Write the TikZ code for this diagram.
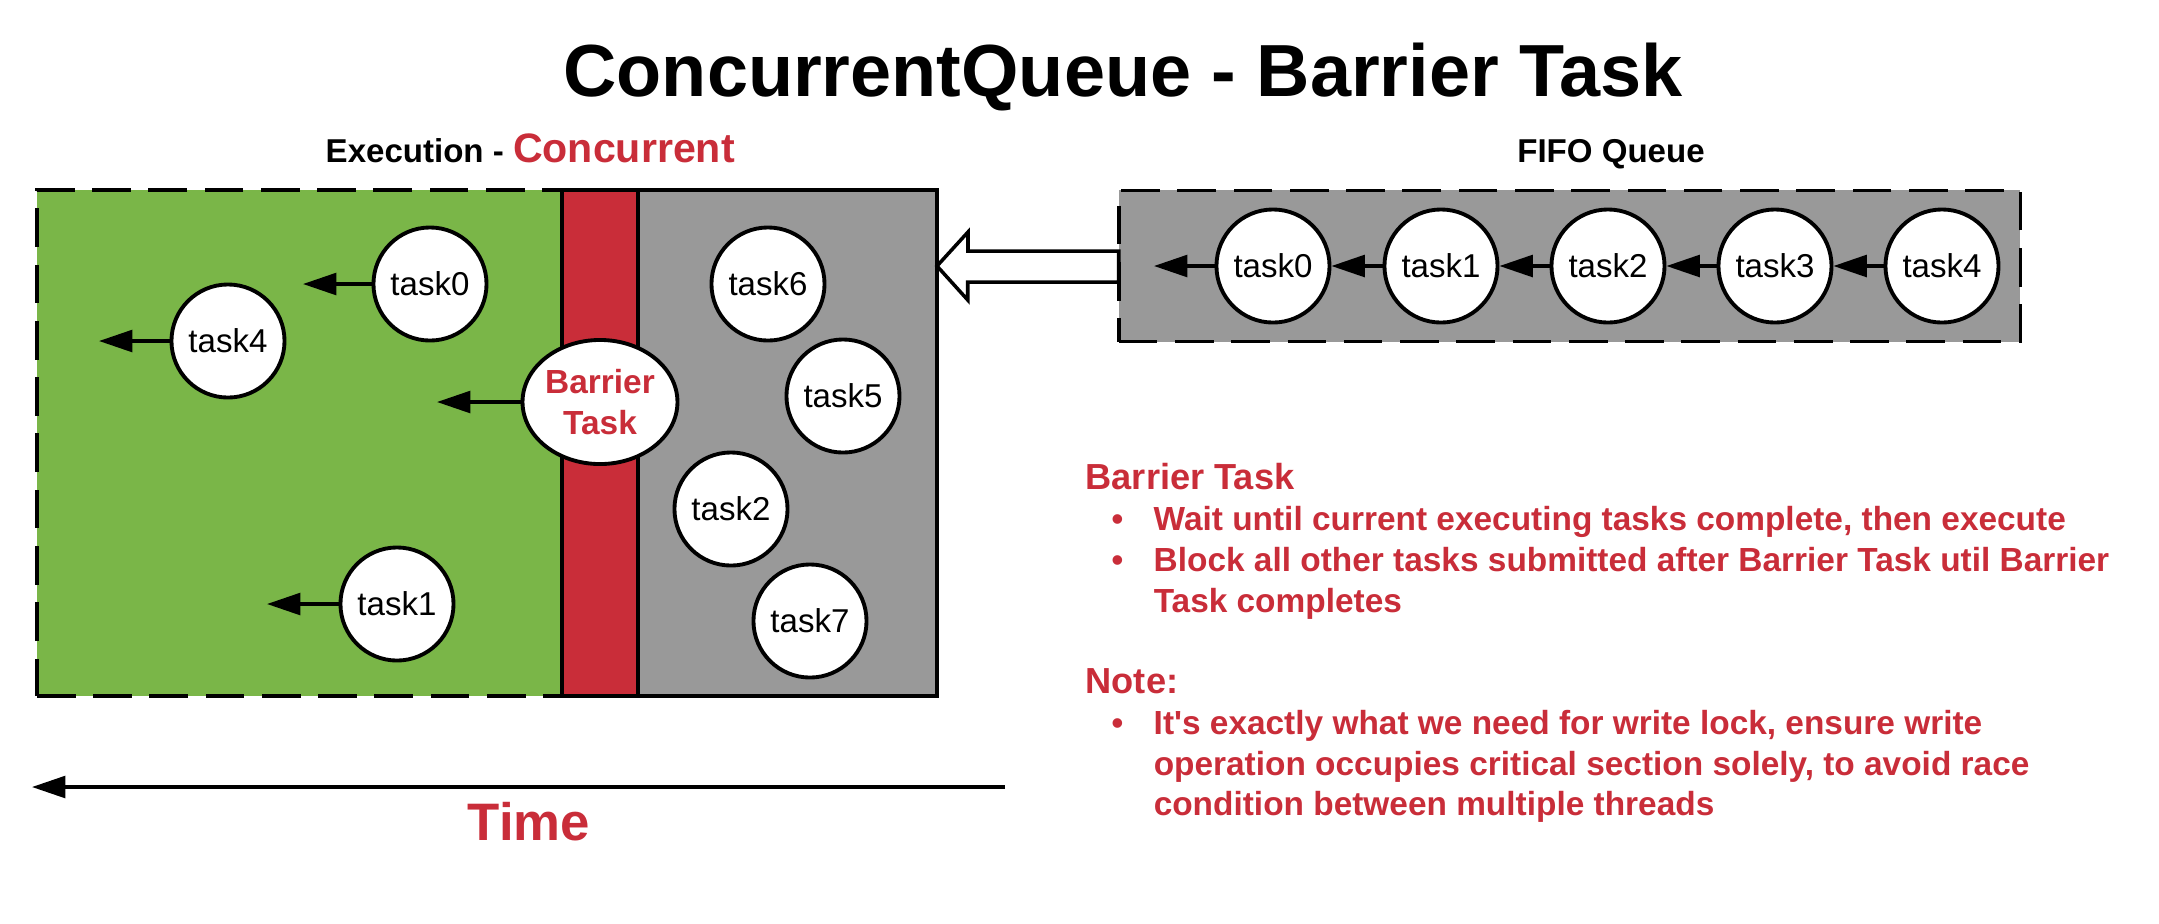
\documentclass[tikz,border=0pt]{standalone}
\usepackage{fontspec}
\setmainfont{Liberation Sans}
\newfontfamily\straightq{Liberation Sans}
\usetikzlibrary{arrows.meta,shapes.geometric}
\definecolor{lucidgreen}{HTML}{7AB648}
\definecolor{lucidred}{HTML}{C92D39}
\definecolor{lucidgrey}{HTML}{999999}
\newcommand{\bul}{\makebox[19.35pt][l]{\hspace*{7.4pt}\textbullet}}

\begin{document}
\begin{tikzpicture}[
    x=0.01cm, y=-0.01cm,
    >={Triangle[length=9.5pt,width=6.2pt]},
    zone/.style={draw, line width=1pt, inner sep=0pt, outer sep=0pt, minimum height=5.06cm},
    queuezone/.style={draw, dashed, dash pattern=on 11pt off 5pt, line width=1pt, fill=lucidgrey, inner sep=0pt, outer sep=0pt, minimum width=9.01cm, minimum height=1.51cm},
    task/.style={circle, draw, fill=white, line width=1.1pt, minimum size=1.13cm, inner sep=0pt, font=\fontsize{9.4}{11}\selectfont},
    barriertask/.style={ellipse, draw, fill=white, line width=1.1pt, minimum width=1.5cm, minimum height=1.24cm, inner sep=0pt, align=center, text=lucidred, font=\bfseries\fontsize{9.5}{11.4}\selectfont},
    flow/.style={->, line width=0.95pt},
    hollow/.style={draw, fill=white, line width=1pt, line join=miter},
    heading/.style={inner sep=0pt, font=\bfseries\fontsize{9.4}{11}\selectfont},
    notes/.style={inner sep=0pt, align=left, text=lucidred, font=\bfseries\fontsize{9.5}{11.58}\selectfont}
]
\useasboundingbox (0,0) rectangle (2159,923);

\node[anchor=base, inner sep=0pt, font=\bfseries\fontsize{21}{25}\selectfont] (title) at (1123,96) {ConcurrentQueue - Barrier Task};
\node[heading, anchor=base west] (execlabel) at (325,162) {Execution - {\color{lucidred}\fontsize{11.7}{14}\selectfont Concurrent}};
\node[heading, anchor=base] (fifolabel) at (1611,162) {FIFO Queue};

\node[zone, fill=lucidgreen, dashed, dash pattern=on 11pt off 5pt, minimum width=5.25cm] (done) at (299.5,443) {};
\node[zone, fill=lucidred, minimum width=0.76cm] (wall) at (600,443) {};
\node[zone, fill=lucidgrey, minimum width=2.99cm] (waiting) at (787.5,443) {};

\node[task] (run0) at (430,284) {task0};
\node[task] (run4) at (228,341) {task4};
\node[task] (run1) at (397,604) {task1};
\node[barriertask] (barrier) at (600,402) {Barrier\\Task};
\node[task] (wait6) at (768,284) {task6};
\node[task] (wait5) at (843,396) {task5};
\node[task] (wait2) at (731,509) {task2};
\node[task] (wait7) at (810,621) {task7};

\coordinate (out0) at (303,284);
\coordinate (out4) at (99,341);
\coordinate (out1) at (267,604);
\coordinate (outbarrier) at (437,402);
\draw[flow] (run0) -- (out0);
\draw[flow] (run4) -- (out4);
\draw[flow] (run1) -- (out1);
\draw[flow] (barrier) -- (outbarrier);

\node[queuezone] (queue) at (1569.5,266) {};
\node[task] (q0) at (1273,266) {task0};
\node[task] (q1) at (1441,266) {task1};
\node[task] (q2) at (1608,266) {task2};
\node[task] (q3) at (1775,266) {task3};
\node[task] (q4) at (1942,266) {task4};
\coordinate (qout) at (1154,266);
\draw[flow] (q4) -- (q3);
\draw[flow] (q3) -- (q2);
\draw[flow] (q2) -- (q1);
\draw[flow] (q1) -- (q0);
\draw[flow] (q0) -- (qout);

\coordinate (enter) at (937,266);
\path[hollow] (enter) -- ++(31,-34) -- ++(0,19) -- (queue.west |- 0,251) -- (queue.west |- 0,282) -- ++(-151,0) -- ++(0,18) -- cycle;

\coordinate (timestart) at (1005,787);
\coordinate (timeend) at (32,787);
\draw[flow] (timestart) -- (timeend);
\node[anchor=base, inner sep=0pt, text=lucidred, font=\bfseries\fontsize{15}{18}\selectfont] (time) at (529,840) {Time};

\node[notes, anchor=north west] (notes) at (1085,463) {{\fontsize{10.3}{11.58}\selectfont Barrier Task}\\
\bul Wait until current executing tasks complete, then execute\\
\bul Block all other tasks submitted after Barrier Task util Barrier\\
\hspace*{19.35pt}Task completes\\[11.58pt]
{\fontsize{10.3}{11.58}\selectfont Note:}\\
\bul It{\straightq'}s exactly what we need for write lock, ensure write\\
\hspace*{19.35pt}operation occupies critical section solely, to avoid race\\
\hspace*{19.35pt}condition between multiple threads};
\end{tikzpicture}
\end{document}
